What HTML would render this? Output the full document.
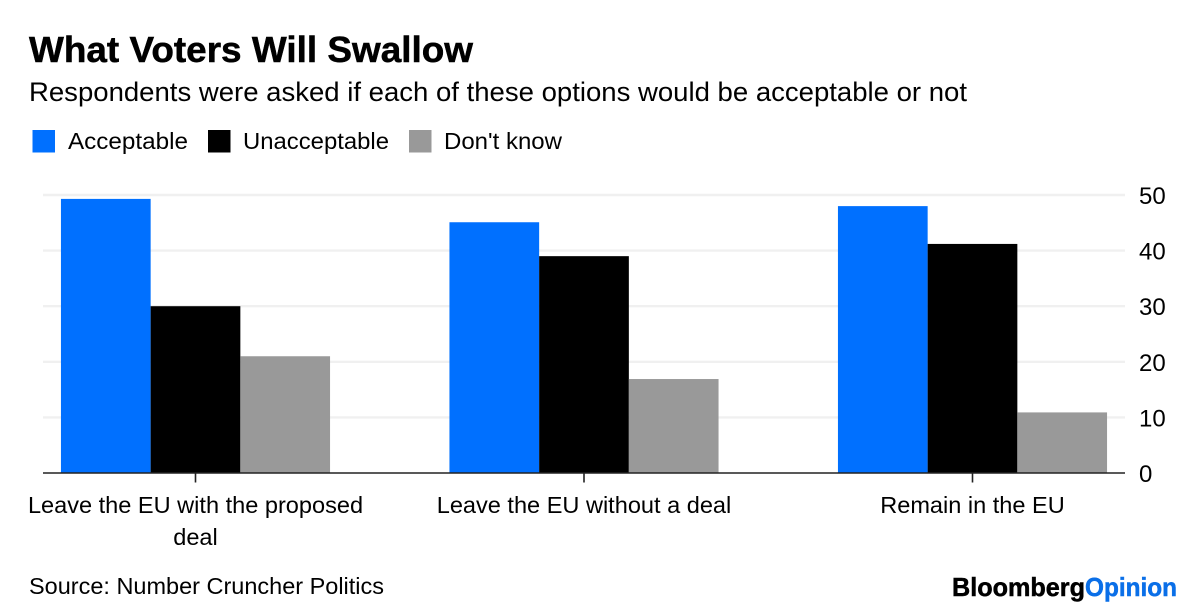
<!DOCTYPE html>
<html lang="en">
<head>
<meta charset="utf-8">
<title>What Voters Will Swallow</title>
<style>
html,body{margin:0;padding:0;background:#fff;}
svg{display:block;font-family:"Liberation Sans",Arial,sans-serif;}
text{fill:#000;}
</style>
</head>
<body>
<svg id="chart" width="1200" height="614" viewBox="0 0 1200 614" xmlns="http://www.w3.org/2000/svg">
  <rect x="0" y="0" width="1200" height="614" fill="#fff"/>
  <text x="29" y="62" font-size="36" font-weight="700" stroke="#000" stroke-width="0.5" textLength="444" lengthAdjust="spacingAndGlyphs">What Voters Will Swallow</text>
  <text x="29" y="101" font-size="27" textLength="938" lengthAdjust="spacingAndGlyphs">Respondents were asked if each of these options would be acceptable or not</text>
  <g id="legend"></g>
  <g id="grid"></g>
  <g id="bars"></g>
  <g id="axes"></g>
  <text x="29" y="594" font-size="23" textLength="355" lengthAdjust="spacingAndGlyphs">Source: Number Cruncher Politics</text>
  <text x="952" y="596" font-size="26" font-weight="700" stroke="#000" stroke-width="0.5" textLength="133" lengthAdjust="spacingAndGlyphs">Bloomberg</text>
  <text x="1085" y="596" font-size="26" font-weight="700" stroke="#0a6fe8" stroke-width="0.5" textLength="92" lengthAdjust="spacingAndGlyphs" style="fill:#0a6fe8">Opinion</text>
</svg>
<script>
const categories = ["Leave the EU with the proposed deal", "Leave the EU without a deal", "Remain in the EU"];
const seriesNames = ["Acceptable", "Unacceptable", "Don't know"];
const acceptable = [49.3, 45.1, 48];
const unacceptable = [30, 39, 41.2];
const dontKnow = [21, 16.9, 10.9];
const yTicks = [0, 10, 20, 30, 40, 50];

const seriesValues = [acceptable, unacceptable, dontKnow];
const seriesColors = ["#0070ff", "#000000", "#999999"];
const NS = "http://www.w3.org/2000/svg";
const plot = { left: 43, right: 1125, top: 195, bottom: 473, yMax: 50 };
const groupStep = 388.5;
const firstCenter = 195.5;
const barWidth = 89.7;
const labelSize = 23.55;

function yScale(v) {
  return plot.bottom - (v / plot.yMax) * (plot.bottom - plot.top);
}
function xCenter(i) {
  return firstCenter + i * groupStep;
}
function xBar(i, s) {
  return xCenter(i) + (s - seriesValues.length / 2) * barWidth;
}
function make(tag, attrs, parent, content) {
  const el = document.createElementNS(NS, tag);
  for (const k in attrs) el.setAttribute(k, attrs[k]);
  if (content !== undefined) el.textContent = content;
  parent.appendChild(el);
  return el;
}
function wrapLabel(label, maxWidth, size) {
  const ctx = document.createElement("canvas").getContext("2d");
  ctx.font = size + 'px "Liberation Sans", Arial, sans-serif';
  const lines = [];
  let current = "";
  label.split(" ").forEach(function (word) {
    const trial = current ? current + " " + word : word;
    if (ctx.measureText(trial).width > maxWidth && current) {
      lines.push(current);
      current = word;
    } else {
      current = trial;
    }
  });
  lines.push(current);
  return lines;
}

const legendGroup = document.getElementById("legend");
const gridGroup = document.getElementById("grid");
const barsGroup = document.getElementById("bars");
const axesGroup = document.getElementById("axes");

const legendSwatchX = [32.5, 208, 409];
const legendTextX = [68, 243, 444];
const legendTextW = [120, 146, 118];
seriesNames.forEach(function (name, s) {
  const sw = make("rect", { x: legendSwatchX[s], y: 130, width: 22.5, height: 22.5, fill: seriesColors[s] }, legendGroup);
  
  
  const t = make("text", { x: legendTextX[s], y: 149, "font-size": 23, textLength: legendTextW[s], lengthAdjust: "spacingAndGlyphs" }, legendGroup, name);
  
  
});

yTicks.forEach(function (v) {
  const y = yScale(v);
  if (v !== 0) {
    const g = make("line", { x1: plot.left, x2: plot.right, y1: y, y2: y, stroke: "#f0f0f0", "stroke-width": 2.4 }, gridGroup);
    
    
  }
  const t = make("text", { x: 1139, y: y + 9, "font-size": 24 }, axesGroup, String(v));
  
  
});

seriesValues.forEach(function (values, s) {
  values.forEach(function (v, i) {
    const r = make("rect", { x: xBar(i, s), y: yScale(v), width: barWidth, height: plot.bottom - yScale(v), fill: seriesColors[s] }, barsGroup);
    
    
  });
});

const axisLine = make("line", { x1: plot.left, x2: plot.right, y1: plot.bottom, y2: plot.bottom, stroke: "#222", "stroke-width": 1.6 }, axesGroup);



categories.forEach(function (label, i) {
  const cx = xCenter(i);
  const tick = make("line", { x1: cx, x2: cx, y1: plot.bottom, y2: plot.bottom + 9.5, stroke: "#222", "stroke-width": 1.6 }, axesGroup);
  
  
  wrapLabel(label, 345, labelSize).forEach(function (line, n) {
    const t = make("text", { x: cx, y: 513 + n * 32, "font-size": labelSize, "text-anchor": "middle" }, axesGroup, line);
    
    
  });
});
</script>
</body>
</html>
